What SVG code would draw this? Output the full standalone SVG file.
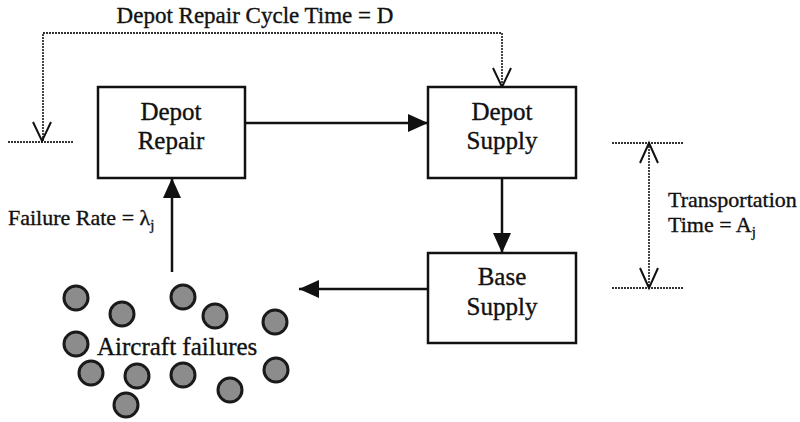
<svg xmlns="http://www.w3.org/2000/svg" width="800" height="422" viewBox="0 0 800 422">
<style>
.box{fill:#fff;stroke:#111;stroke-width:2.5}
.lbl{font-family:"Liberation Serif","Times New Roman",serif;font-size:25px;fill:#111;stroke:#111;stroke-width:0.35;text-anchor:middle}
.txt{font-family:"Liberation Serif","Times New Roman",serif;font-size:22px;fill:#111;stroke:#111;stroke-width:0.35}
.flow{stroke:#111;stroke-width:2.5;fill:none}
.dot{stroke:#333;stroke-width:1.8;fill:none;stroke-dasharray:2 1}
.open{stroke:#111;stroke-width:2;fill:none}
.ac{fill:#8c8c8c;stroke:#1a1a1a;stroke-width:3}
</style>
<defs>
<marker id="ah" viewBox="0 0 20 18" refX="20" refY="9" markerWidth="20" markerHeight="18" markerUnits="userSpaceOnUse" orient="auto">
<path d="M0,0 L20,9 L0,18 Z" fill="#111"/>
</marker>
</defs>
<rect width="800" height="422" fill="#fff"/>
<g id="connectors">
<line class="flow" x1="245" y1="123" x2="428" y2="123" marker-end="url(#ah)"/>
<line class="flow" x1="502" y1="178" x2="502" y2="253" marker-end="url(#ah)"/>
<line class="flow" x1="428" y1="289" x2="299" y2="289" marker-end="url(#ah)"/>
<line class="flow" x1="172" y1="272" x2="172" y2="178" marker-end="url(#ah)"/>
<polyline class="dot" points="43,141 43,33 502,33 502,87"/>
<line class="dot" x1="8" y1="142" x2="73" y2="142"/>
<polyline class="open" points="33,122 42,141 51,122"/>
<polyline class="open" points="493,68 502,87 511,68"/>
<line class="dot" x1="612" y1="143" x2="683" y2="143"/>
<line class="dot" x1="612" y1="288" x2="683" y2="288"/>
<line class="dot" x1="649" y1="143" x2="649" y2="288"/>
<polyline class="open" points="640,163 649,143 658,163"/>
<polyline class="open" points="640,268 649,288 658,268"/>
</g>
<g id="depot-repair">
<rect class="box" x="98" y="87" width="147" height="91"/>
<text class="lbl" x="171" y="120">Depot</text>
<text class="lbl" x="171" y="149">Repair</text>
</g>
<g id="depot-supply">
<rect class="box" x="428" y="87" width="148" height="91"/>
<text class="lbl" x="502" y="120">Depot</text>
<text class="lbl" x="502" y="149">Supply</text>
</g>
<g id="base-supply">
<rect class="box" x="428" y="253" width="148" height="90"/>
<text class="lbl" x="502" y="285">Base</text>
<text class="lbl" x="502" y="315">Supply</text>
</g>
<g id="aircraft-failures">
<circle class="ac" cx="76" cy="298" r="12"/>
<circle class="ac" cx="122" cy="314" r="12"/>
<circle class="ac" cx="183" cy="297" r="12"/>
<circle class="ac" cx="215" cy="316" r="12"/>
<circle class="ac" cx="275" cy="322" r="12"/>
<circle class="ac" cx="76" cy="344" r="12"/>
<circle class="ac" cx="91" cy="373" r="12"/>
<circle class="ac" cx="137" cy="376" r="12"/>
<circle class="ac" cx="183" cy="375" r="12"/>
<circle class="ac" cx="230" cy="390" r="12"/>
<circle class="ac" cx="276" cy="370" r="12"/>
<circle class="ac" cx="126" cy="405" r="12"/>
<text class="txt" x="97" y="355" style="font-size:25px">Aircraft failures</text>
</g>
<g id="labels">
<text class="txt" x="255" y="23" text-anchor="middle" style="font-size:23px">Depot Repair Cycle Time = D</text>
<text class="txt" x="8" y="225">Failure Rate = λ<tspan font-size="15" dy="5">j</tspan></text>
<text class="txt" x="668" y="207">Transportation</text>
<text class="txt" x="668" y="232">Time = A<tspan font-size="15" dy="5">j</tspan></text>
</g>
</svg>
